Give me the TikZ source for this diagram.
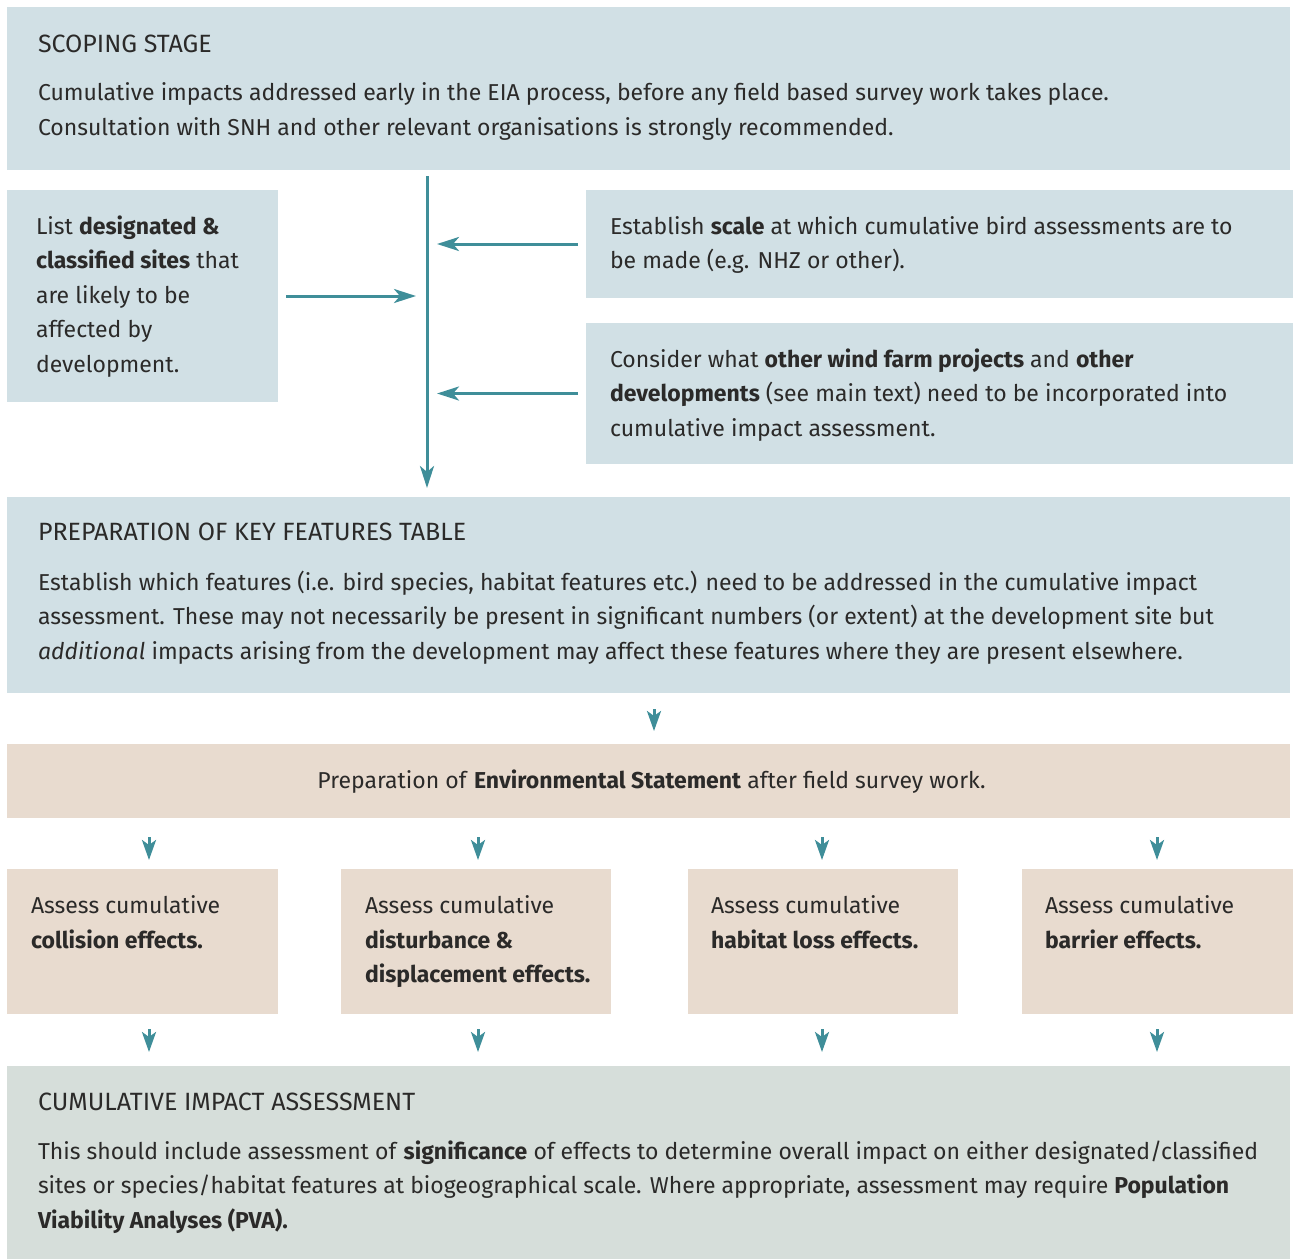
\documentclass[tikz,border=0pt]{standalone}
\usepackage{fontspec}
\setmainfont{Fira Sans}
\usetikzlibrary{arrows.meta}
\definecolor{bluebox}{HTML}{D1E0E5}
\definecolor{beigebox}{HTML}{E8DBCF}
\definecolor{greybox}{HTML}{D6DEDA}
\definecolor{teal}{HTML}{3F8E99}
\definecolor{ink}{HTML}{2B2A29}
\tikzset{
  box/.style={inner sep=0pt, outer sep=0pt, anchor=north west, draw=none},
  txt/.style={inner sep=0pt, outer sep=0pt, anchor=base west, align=left, text=ink,
     font=\fontsize{23pt}{34.6pt}\selectfont},
  ttl/.style={inner sep=0pt, outer sep=0pt, anchor=base west, text=ink,
     font=\fontsize{25pt}{30pt}\selectfont},
  bigarr/.style={draw=teal, line width=3pt, -{Stealth[length=22pt,width=14pt,inset=6pt]}},
  tip/.style={draw=teal, line width=3pt, -{Stealth[length=20pt,width=14pt,inset=5pt]}},
}
\begin{document}
\begin{tikzpicture}[x=1pt,y=-1pt]
\useasboundingbox (0,0) rectangle (1293,1259);
% boxes
\node[box, fill=bluebox, minimum width=1283pt, minimum height=163pt] (scope) at (7,7) {};
\node[box, fill=bluebox, minimum width=271pt, minimum height=212pt] (left) at (7,190) {};
\node[box, fill=bluebox, minimum width=707pt, minimum height=108pt] (r1) at (586,190) {};
\node[box, fill=bluebox, minimum width=707pt, minimum height=141pt] (r2) at (586,323) {};
\node[box, fill=bluebox, minimum width=1283pt, minimum height=196pt] (kf) at (7,497) {};
\node[box, fill=beigebox, minimum width=1283pt, minimum height=74pt] (es) at (7,744) {};
\node[box, fill=beigebox, minimum width=271pt, minimum height=145pt] (b1) at (7,869) {};
\node[box, fill=beigebox, minimum width=270pt, minimum height=145pt] (b2) at (341,869) {};
\node[box, fill=beigebox, minimum width=270pt, minimum height=145pt] (b3) at (688,869) {};
\node[box, fill=beigebox, minimum width=271pt, minimum height=145pt] (b4) at (1022,869) {};
\node[box, fill=greybox, minimum width=1283pt, minimum height=193pt] (cia) at (7,1066) {};
% texts (anchored at the baseline of the last line)
\node[ttl] (t1) at (38,52) {SCOPING STAGE};
\node[txt] (p1) at (38,135.5) {Cumulative impacts addressed early in the EIA process, before any field based survey work takes place.\\Consultation with SNH and other relevant organisations is strongly recommended.};
\node[txt] (p2) at (36,372.5) {List \textbf{designated \&}\\\textbf{classified sites} that\\are likely to be\\affected by\\development.};
\node[txt] (p3) at (610,268.6) {Establish \textbf{scale} at which cumulative bird assessments are to\\be made (e.g. NHZ or other).};
\node[txt] (p4) at (610,436.2) {Consider what \textbf{other wind farm projects} and \textbf{other}\\\textbf{developments} (see main text) need to be incorporated into\\cumulative impact assessment.};
\node[ttl] (t2) at (38,540) {PREPARATION OF KEY FEATURES TABLE};
\node[txt] (p5) at (38,659.2) {Establish which features (i.e. bird species, habitat features etc.) need to be addressed in the cumulative impact\\assessment. These may not necessarily be present in significant numbers (or extent) at the development site but\\\textit{additional} impacts arising from the development may affect these features where they are present elsewhere.};
\node[txt, anchor=base] (p6) at (651.5,788) {Preparation of \textbf{Environmental Statement} after field survey work.};
\node[txt] (p7) at (31,948) {Assess cumulative\\\textbf{collision effects.}};
\node[txt] (p8) at (365,982.6) {Assess cumulative\\\textbf{disturbance \&}\\\textbf{displacement effects.}};
\node[txt] (p9) at (711,948) {Assess cumulative\\\textbf{habitat loss effects.}};
\node[txt] (p10) at (1045,948) {Assess cumulative\\\textbf{barrier effects.}};
\node[ttl] (t3) at (38,1110) {CUMULATIVE IMPACT ASSESSMENT};
\node[txt] (p11) at (38,1228.5) {This should include assessment of \textbf{significance} of effects to determine overall impact on either designated/classified\\sites or species/habitat features at biogeographical scale. Where appropriate, assessment may require \textbf{Population}\\\textbf{Viability Analyses (PVA).}};
% connectors
\coordinate (vtop) at (427,176);
\coordinate (vbot) at (427,488);
\draw[bigarr] (vtop) -- (vbot);
\draw[bigarr] ([xshift=-8pt]r1.west) -- ([xshift=10pt]r1.west -| vtop);
\draw[bigarr] ([xshift=-8pt]r2.west) -- ([xshift=10pt]r2.west -| vtop);
\draw[bigarr] ([xshift=8pt]left.east) -- ([xshift=-11pt]left.east -| vtop);
\draw[tip] ([shift={(5.5pt,-16pt)}]kf.south) -- ([shift={(5.5pt,13pt)}]es.north);
\draw[tip] ([shift={(6.5pt,32pt)}]b1.north) -- ([shift={(6.5pt,9pt)}]b1.north);
\draw[tip] ([shift={(2pt,32pt)}]b2.north) -- ([shift={(2pt,9pt)}]b2.north);
\draw[tip] ([shift={(-1pt,32pt)}]b3.north) -- ([shift={(-1pt,9pt)}]b3.north);
\draw[tip] ([shift={(-0.5pt,32pt)}]b4.north) -- ([shift={(-0.5pt,9pt)}]b4.north);
\draw[tip] ([shift={(6.5pt,-15pt)}]b1.south) -- ([shift={(6.5pt,14pt)}]b1.south |- cia.north);
\draw[tip] ([shift={(2pt,-15pt)}]b2.south) -- ([shift={(2pt,14pt)}]b2.south |- cia.north);
\draw[tip] ([shift={(-1pt,-15pt)}]b3.south) -- ([shift={(-1pt,14pt)}]b3.south |- cia.north);
\draw[tip] ([shift={(-0.5pt,-15pt)}]b4.south) -- ([shift={(-0.5pt,14pt)}]b4.south |- cia.north);
\end{tikzpicture}
\end{document}
